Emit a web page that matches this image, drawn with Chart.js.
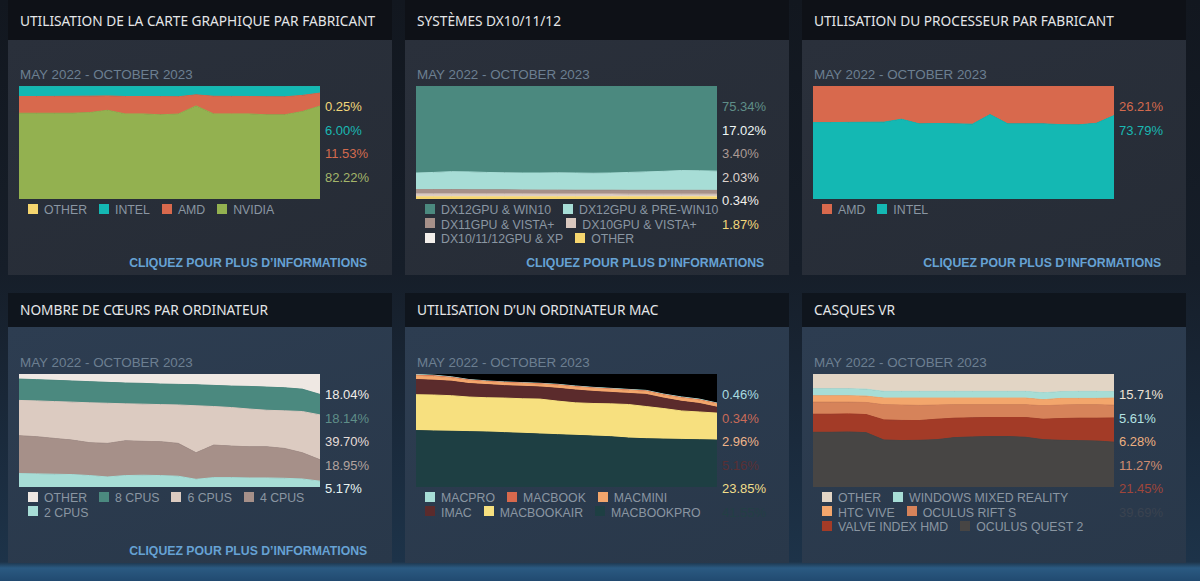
<!DOCTYPE html>
<html>
<head>
<meta charset="utf-8">
<script src="https://cdn.jsdelivr.net/npm/chart.js@4.4.0/dist/chart.umd.min.js"></script>
<style>
    body {
        margin: 0;
        width: 1200px;
        height: 581px;
        overflow: hidden;
        position: relative;
        font-family: "Liberation Sans", Arial, sans-serif;
        background: linear-gradient(180deg, #12171f 0px, #161e29 270px, #1a2a3c 440px, #1d3349 562px, #2b5a82 568px, #214a70 581px);
    }
    .head, .panel-body, .txt, canvas { position: absolute; }
    .head { background: #0e1117; }
    .row2 .head { background: #0f151d; }
    .panel-body { background: linear-gradient(160deg, #2a303b 0%, #262c36 100%); }
    .row2 .panel-body { background: linear-gradient(160deg, #2d3d51 0%, #29384a 100%); }
    .title {
        font-family: "Noto Sans", "Open Sans", sans-serif;
        font-size: 13.7px;
        color: #e4e6e8;
        white-space: nowrap;
        line-height: 16px;
    }
    .date {
        font-size: 13.4px;
        color: #6c7f91;
        line-height: 14px;
        white-space: nowrap;
    }
    .pct {
        font-size: 13px;
        line-height: 14px;
        white-space: nowrap;
    }
    .legend-row {
        display: flex;
        white-space: nowrap;
    }
    .legend-row span.item {
        display: flex;
        align-items: center;
        margin-right: 12px;
        height: 14.5px;
        font-size: 12.3px;
        color: #8a96a2;
    }
    .legend-row i {
        display: inline-block;
        width: 10px;
        height: 10px;
        margin-right: 6px;
        margin-top: -3px;
    }
    .link {
        font-weight: bold;
        font-size: 13.5px;
        color: #66a2d4;
        white-space: nowrap;
        line-height: 14px;
        transform-origin: right center;
    }
</style>
</head>
<body>
<script>
// Months: May 2022 - October 2023
const months = ['2022-05', '2022-06', '2022-07', '2022-08', '2022-09', '2022-10', '2022-11', '2022-12', '2023-01',
    '2023-02', '2023-03', '2023-04', '2023-05', '2023-06', '2023-07', '2023-08', '2023-09', '2023-10'];

// GPU vendor (%)
const gpuNvidia = [75.9, 75.9, 75.9, 75.9, 76.5, 78.5, 75.3, 75.3, 74.5, 75.2, 82.4, 75.3, 75.3, 75.3, 74.5, 74.5, 77.4, 82.22];
const gpuAmd = [14.8, 14.8, 14.9, 15.0, 14.5, 12.7, 15.4, 15.4, 16.1, 15.3, 9.8, 15.6, 15.5, 15.4, 16.0, 15.9, 14.3, 11.53];
const gpuIntel = [9.0, 9.0, 8.9, 8.8, 8.7, 8.5, 9.0, 9.0, 9.1, 9.2, 7.5, 8.8, 8.9, 9.0, 9.2, 9.3, 8.0, 6.00];
const gpuOther = [0.3, 0.3, 0.3, 0.3, 0.3, 0.3, 0.3, 0.3, 0.3, 0.3, 0.3, 0.3, 0.3, 0.3, 0.3, 0.3, 0.3, 0.25];

// DX10/11/12 systems (%)
const dxOther = [1.9, 1.9, 1.9, 1.9, 1.9, 1.9, 1.9, 1.9, 1.9, 1.9, 1.9, 1.9, 1.9, 1.9, 1.9, 1.9, 1.9, 1.87];
const dxXp = [0.4, 0.4, 0.4, 0.4, 0.4, 0.4, 0.4, 0.4, 0.4, 0.4, 0.4, 0.4, 0.4, 0.4, 0.4, 0.4, 0.4, 0.34];
const dxDx10 = [2.3, 2.3, 2.3, 2.2, 2.2, 2.2, 2.2, 2.1, 2.1, 2.1, 2.1, 2.1, 2.0, 2.0, 2.0, 2.0, 2.0, 2.03];
const dxDx11 = [3.8, 3.8, 3.7, 3.7, 3.6, 3.6, 3.5, 3.5, 3.5, 3.4, 3.4, 3.4, 3.4, 3.4, 3.4, 3.4, 3.4, 3.40];
const dxPreWin10 = [14.6, 15.1, 15.9, 15.8, 15.4, 15.1, 15.0, 15.1, 15.3, 15.2, 15.0, 15.2, 15.8, 16.3, 16.8, 17.5, 17.3, 17.02];
const dxWin10 = [77.0, 76.5, 75.8, 76.0, 76.5, 76.8, 77.0, 77.0, 76.8, 77.0, 77.2, 77.0, 76.5, 76.0, 75.5, 74.8, 75.0, 75.34];

// CPU vendor (%)
const cpuIntel = [67.6, 67.6, 67.8, 67.9, 68.0, 70.6, 66.5, 66.8, 66.5, 66.2, 74.7, 66.5, 66.5, 66.5, 65.8, 65.6, 67.0, 73.79];
const cpuAmd = [32.4, 32.4, 32.2, 32.1, 32.0, 29.4, 33.5, 33.2, 33.5, 33.8, 25.3, 33.5, 33.5, 33.5, 34.2, 34.4, 33.0, 26.21];

// Physical CPU cores (%)
const coresTwo = [11.9, 11.6, 11.3, 11.0, 10.1, 8.9, 10.1, 10.4, 10.1, 9.5, 6.8, 8.3, 8.3, 8.0, 8.0, 7.7, 7.1, 5.17];
const coresFour = [33.5, 32.9, 31.7, 30.5, 29.1, 29.7, 30.8, 30.0, 30.0, 29.1, 23.5, 28.8, 27.9, 27.6, 27.6, 26.4, 23.2, 18.95];
const coresSix = [31.2, 31.7, 32.6, 33.6, 35.3, 35.5, 32.7, 32.9, 32.8, 34.0, 41.6, 34.1, 34.1, 33.4, 32.3, 33.3, 36.5, 39.70];
const coresEight = [18.9, 18.8, 18.8, 18.7, 18.7, 18.5, 18.4, 18.4, 18.2, 18.2, 18.6, 18.7, 19.0, 20.0, 20.5, 20.4, 19.8, 18.14];
const coresOther = [4.5, 5.0, 5.6, 6.2, 6.8, 7.4, 8.0, 8.3, 8.9, 9.2, 9.5, 10.1, 10.7, 11.0, 11.6, 12.2, 13.4, 18.04];

// Mac models (%)
const macBookPro = [49.9, 49.6, 49.3, 49.0, 48.7, 48.1, 47.5, 46.9, 46.3, 45.7, 45.1, 44.5, 43.3, 42.7, 42.4, 42.1, 41.8, 41.55];
const macBookAir = [31.8, 31.8, 31.5, 30.6, 30.3, 30.6, 30.6, 30.9, 29.7, 28.8, 28.8, 29.1, 29.7, 28.5, 27.0, 25.2, 24.6, 23.85];
const macImac = [13.4, 13.1, 12.8, 11.9, 11.6, 11.0, 11.0, 10.7, 11.3, 11.3, 10.7, 10.1, 9.8, 10.7, 9.2, 8.5, 7.5, 5.16];
const macMini = [3.3, 3.3, 2.9, 2.7, 2.5, 2.5, 2.5, 2.5, 2.7, 2.7, 2.7, 2.7, 2.7, 2.7, 2.7, 2.9, 2.9, 2.96];
const macBook = [0.6, 0.6, 0.5, 0.5, 0.4, 0.4, 0.4, 0.4, 0.4, 0.4, 0.4, 0.4, 0.4, 0.4, 0.4, 0.4, 0.4, 0.34];
const macPro = [0.6, 0.6, 0.5, 0.4, 0.4, 0.4, 0.4, 0.4, 0.5, 0.5, 0.5, 0.5, 0.5, 0.5, 0.5, 0.6, 0.6, 0.46];

// VR headsets (%)
const vrQuest2 = [48.4, 48.4, 48.7, 48.1, 41.6, 41.1, 41.3, 41.9, 43.7, 44.3, 44.6, 44.6, 44.0, 41.9, 41.3, 41.0, 40.7, 39.69];
const vrIndex = [16.0, 16.0, 16.0, 16.0, 17.8, 17.8, 17.5, 18.1, 17.2, 16.9, 16.9, 16.9, 17.5, 18.1, 19.3, 19.9, 20.2, 21.45];
const vrRiftS = [10.7, 10.7, 10.4, 10.7, 13.4, 13.6, 13.4, 12.5, 11.9, 11.6, 11.3, 11.3, 11.3, 11.9, 11.9, 11.9, 11.9, 11.27];
const vrVive = [5.6, 5.6, 5.6, 5.6, 5.9, 6.2, 6.5, 6.2, 5.9, 5.9, 5.9, 5.9, 5.9, 5.3, 5.9, 5.6, 5.6, 6.28];
const vrWmr = [6.2, 6.2, 6.2, 6.2, 5.9, 5.9, 5.9, 5.9, 5.9, 5.9, 5.9, 5.9, 5.9, 6.2, 5.9, 6.2, 6.2, 5.61];
const vrOther = [13.1, 13.1, 13.1, 13.4, 15.4, 15.4, 15.4, 15.4, 15.4, 15.4, 15.4, 15.4, 15.4, 16.6, 15.7, 15.4, 15.4, 15.71];

const dateText = 'MAY 2022 - OCTOBER 2023';
const linkText = 'CLIQUEZ POUR PLUS D\u2019INFORMATIONS';

// series lists are bottom -> top of the stack; legendRows = items per legend line
const panels = [
    {
        title: 'UTILISATION DE LA CARTE GRAPHIQUE PAR FABRICANT', x: 8, row: 1, link: true, legendRows: [4],
        series: [
            { label: 'NVIDIA', data: gpuNvidia, color: '#93b150', text: '#a4b56a' },
            { label: 'AMD', data: gpuAmd, color: '#d8694d', text: '#d36a4e' },
            { label: 'INTEL', data: gpuIntel, color: '#14b8b3', text: '#1ab8b3' },
            { label: 'OTHER', data: gpuOther, color: '#f5d56e', text: '#f2d77a' }
        ]
    },
    {
        title: 'SYSTÈMES DX10/11/12', x: 405, row: 1, link: true, legendRows: [2, 2, 2],
        series: [
            { label: 'OTHER', data: dxOther, color: '#f5d56e', text: '#f2d77a' },
            { label: 'DX10/11/12GPU & XP', data: dxXp, color: '#f3efeb', text: '#f3efeb' },
            { label: 'DX10GPU & VISTA+', data: dxDx10, color: '#d9c8bf', text: '#ddd2cc' },
            { label: 'DX11GPU & VISTA+', data: dxDx11, color: '#a69089', text: '#ab9a94' },
            { label: 'DX12GPU & PRE-WIN10', data: dxPreWin10, color: '#a7ddd6', text: '#eef6f5' },
            { label: 'DX12GPU & WIN10', data: dxWin10, color: '#4b897f', text: '#5f8e88' }
        ]
    },
    {
        title: 'UTILISATION DU PROCESSEUR PAR FABRICANT', x: 802, row: 1, link: true, legendRows: [2],
        series: [
            { label: 'INTEL', data: cpuIntel, color: '#14b8b3', text: '#1ab8b3' },
            { label: 'AMD', data: cpuAmd, color: '#d8694d', text: '#d36a4e' }
        ]
    },
    {
        title: 'NOMBRE DE CŒURS PAR ORDINATEUR', x: 8, row: 2, link: true, legendRows: [4, 1],
        series: [
            { label: '2 CPUS', data: coresTwo, color: '#a7ddd6', text: '#e8f5f3' },
            { label: '4 CPUS', data: coresFour, color: '#a69089', text: '#b3a39e' },
            { label: '6 CPUS', data: coresSix, color: '#dccbc1', text: '#e6ddd8' },
            { label: '8 CPUS', data: coresEight, color: '#4b897f', text: '#5f8e88' },
            { label: 'OTHER', data: coresOther, color: '#efe8e3', text: '#f1ece9' }
        ]
    },
    {
        title: 'UTILISATION D\u2019UN ORDINATEUR MAC', x: 405, row: 2, link: false, bg: '#000000', legendRows: [3, 3],
        series: [
            { label: 'MACBOOKPRO', data: macBookPro, color: '#1e3f43', text: '#233f45' },
            { label: 'MACBOOKAIR', data: macBookAir, color: '#f7e07f', text: '#f1df8a' },
            { label: 'IMAC', data: macImac, color: '#5b2b2c', text: '#5a3034' },
            { label: 'MACMINI', data: macMini, color: '#f3a66c', text: '#eeb48a' },
            { label: 'MACBOOK', data: macBook, color: '#d8694d', text: '#c86a58' },
            { label: 'MACPRO', data: macPro, color: '#a7ddd6', text: '#a9dbe0' }
        ]
    },
    {
        title: 'CASQUES VR', x: 802, row: 2, link: false, legendRows: [2, 2, 2],
        series: [
            { label: 'OCULUS QUEST 2', data: vrQuest2, color: '#474544', text: '#3a4350' },
            { label: 'VALVE INDEX HMD', data: vrIndex, color: '#a33b27', text: '#a0463a' },
            { label: 'OCULUS RIFT S', data: vrRiftS, color: '#d6835a', text: '#cf8c70' },
            { label: 'HTC VIVE', data: vrVive, color: '#f3a66c', text: '#eeb080' },
            { label: 'WINDOWS MIXED REALITY', data: vrWmr, color: '#a7ddd6', text: '#b3e2e2' },
            { label: 'OTHER', data: vrOther, color: '#e2d5c5', text: '#eee2d6' }
        ]
    }
];

// Fill chart area before the datasets (only used for the mac chart)
const areaBackground = {
    id: 'areaBackground',
    beforeDatasetsDraw(chart, args, opts) {
        if (!opts.color) return;
        const a = chart.chartArea;
        chart.ctx.save();
        chart.ctx.fillStyle = opts.color;
        chart.ctx.fillRect(a.left, a.top, a.right - a.left, a.bottom - a.top);
        chart.ctx.restore();
    }
};

function addEl(tag, cls, css, text) {
    const el = document.createElement(tag);
    if (cls) el.className = cls;
    Object.assign(el.style, css);
    if (text !== undefined) el.textContent = text;
    document.body.appendChild(el);
    return el;
}

panels.forEach(p => {
    const wrap = addEl('div', p.row === 2 ? 'row2' : 'row1', {});
    const headTop = p.row === 1 ? 0 : 293;
    const headH = p.row === 1 ? 40 : 34;
    const bodyTop = headTop + headH;
    const bodyH = p.row === 1 ? 235 : 236;
    const chartTop = p.row === 1 ? 86 : 374;
    const chartLeft = p.x + 11;

    const head = addEl('div', 'head', { left: p.x + 'px', top: headTop + 'px', width: '384px', height: headH + 'px' });
    const body = addEl('div', 'panel-body', { left: p.x + 'px', top: bodyTop + 'px', width: '384px', height: bodyH + 'px' });
    wrap.appendChild(head);
    wrap.appendChild(body);

    const titleTop = p.row === 1 ? 13 : 302;
    wrap.appendChild(addEl('div', 'txt title', { left: (p.x + 12) + 'px', top: titleTop + 'px' }, p.title));
    wrap.appendChild(addEl('div', 'txt date', { left: (chartLeft + 1) + 'px', top: (chartTop - 18) + 'px' }, dateText));

    // chart
    const canvas = document.createElement('canvas');
    canvas.width = 301;
    canvas.height = 113;
    canvas.style.left = chartLeft + 'px';
    canvas.style.top = chartTop + 'px';
    wrap.appendChild(canvas);

    new Chart(canvas, {
        type: 'line',
        data: {
            labels: months,
            datasets: p.series.map((s, i) => ({
                label: s.label,
                data: s.data,
                backgroundColor: s.color,
                borderColor: s.color,
                borderWidth: 1,
                pointRadius: 0,
                tension: 0,
                fill: i === 0 ? 'origin' : '-1'
            }))
        },
        options: {
            responsive: false,
            animation: false,
            events: [],
            layout: { padding: 0 },
            plugins: {
                legend: { display: false },
                tooltip: { enabled: false },
                areaBackground: { color: p.bg || null }
            },
            scales: {
                x: { display: false, offset: false },
                y: { display: false, stacked: true, min: 0, max: 100 }
            }
        },
        plugins: [areaBackground]
    });

    // last value labels, top of stack first
    const top = p.series.slice().reverse();
    top.forEach((s, i) => {
        const v = s.data[s.data.length - 1];
        wrap.appendChild(addEl('div', 'txt pct', {
            left: (chartLeft + 306) + 'px',
            top: (chartTop + 14 + i * 23.6) + 'px',
            color: s.text
        }, v.toFixed(2) + '%'));
    });

    // legend, one flex line per row
    const legend = addEl('div', 'txt legend', { left: (chartLeft + 9) + 'px', top: (chartTop + 117) + 'px' });
    let k = 0;
    p.legendRows.forEach(n => {
        const line = document.createElement('div');
        line.className = 'legend-row';
        top.slice(k, k + n).forEach(s => {
            const item = document.createElement('span');
            item.className = 'item';
            const sw = document.createElement('i');
            sw.style.background = s.color;
            item.appendChild(sw);
            item.appendChild(document.createTextNode(s.label));
            line.appendChild(item);
        });
        legend.appendChild(line);
        k += n;
    });
    wrap.appendChild(legend);

    if (p.link) {
        // right edge sits about 47px past the chart, text squeezed to the reference width
        const link = addEl('div', 'txt link', { top: (chartTop + 170) + 'px' }, linkText);
        const w = link.offsetWidth;
        link.style.left = (chartLeft + 348 - w) + 'px';
        link.style.transform = 'scaleX(' + (238 / w).toFixed(3) + ')';
        wrap.appendChild(link);
    }
});
</script>
</body>
</html>
